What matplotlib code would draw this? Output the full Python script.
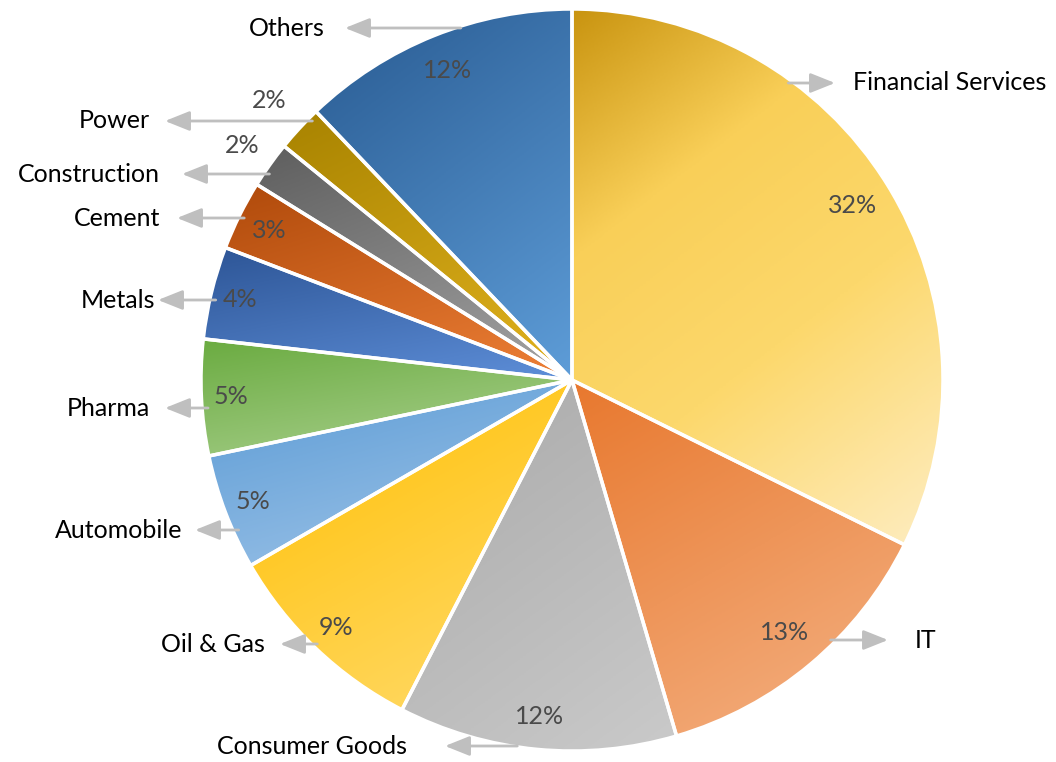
import numpy as np
import matplotlib
matplotlib.use("Agg")
import matplotlib.pyplot as plt
from matplotlib.colors import LinearSegmentedColormap

plt.rcParams['font.family'] = ['Lato', 'DejaVu Sans']

# data (clockwise from 12 o'clock)
sectors = ["Financial Services", "IT", "Consumer Goods", "Oil & Gas", "Automobile",
           "Pharma", "Metals", "Cement", "Construction", "Power", "Others"]
shares = [32, 13, 12, 9, 5, 5, 4, 3, 2, 2, 12]
pct_labels = ["32%", "13%", "12%", "9%", "5%", "5%", "4%", "3%", "2%", "2%", "12%"]

# gradient colours per slice: top-left/dark -> bottom-right/light
grad_colors = [
    [(0, "#C99410"), (0.3, "#F9CF58"), (0.6, "#FCD86C"), (1, "#FEEDC2")],
    ["#E8782E", "#F4B284"],
    ["#A9A9A9", "#CACACA"],
    ["#FFBF00", "#FFDB6E"],
    ["#5B9BD5", "#A2C6E9"],
    ["#6AAB40", "#ADD292"],
    ["#2D5596", "#5E8FD9"],
    ["#B04A0B", "#EE8037"],
    ["#5E5E5E", "#A5A5A5"],
    ["#A88300", "#E2B31F"],
    ["#285A91", "#5E9DD8"],
]

# layout in pixels (y from top)
W, H = 1056, 762
cx, cy, R = 572, 380, 371
label_xy = [(853, 83), (915, 640), (407, 746), (265, 644), (182, 530),
            (150, 408), (155, 300), (160, 218), (160, 174), (150, 121), (325, 28)]
arrow_tip_x = [835, 888, 445, 280, 195, 165, 158, 177, 182, 165, 345]
pct_dist = [0.89, 0.89, 0.91, 0.92, 0.92, 0.92, 0.92, 0.91, 1.09, 1.11, 0.90]

fig = plt.figure(figsize=(W / 100, H / 100), dpi=100)
ax = fig.add_axes([0, 0, 1, 1])

center = (cx, H - cy)
wedges, _ = ax.pie(shares, radius=R, center=center, startangle=90, counterclock=False,
                   frame=True, wedgeprops=dict(facecolor="none", edgecolor="white",
                                               linewidth=2.5, zorder=3))

for w, cols in zip(wedges, grad_colors):
    verts = w.get_path().vertices
    x0, y0 = verts.min(axis=0)
    x1, y1 = verts.max(axis=0)
    cmap = LinearSegmentedColormap.from_list("g", cols)
    yy, xx = np.mgrid[0:1:200j, 0:1:200j]
    # diagonal, mostly top-to-bottom
    t = 0.65 * yy + 0.35 * xx
    im = ax.imshow(t, cmap=cmap, extent=(x0, x1, y0, y1), origin="upper",
                   aspect="auto", zorder=1, interpolation="bilinear", vmin=0, vmax=1)
    im.set_clip_path(w)

ax.set_xlim(0, W)
ax.set_ylim(0, H)
ax.axis("off")

# percent labels
for w, txt, d in zip(wedges, pct_labels, pct_dist):
    mid = np.deg2rad((w.theta1 + w.theta2) / 2)
    ax.text(cx + d * R * np.cos(mid), H - cy + d * R * np.sin(mid), txt,
            ha="center", va="center", fontsize=18, color="#4A4A4A", zorder=5)

# category labels with arrows
for i, name in enumerate(sectors):
    lx, ly = label_xy[i]
    dy = cy - ly
    dx = np.sqrt(max(R ** 2 - dy ** 2, 0))
    right = lx > cx
    start_x = cx + dx - 6 if right else cx - dx + 6
    ax.annotate("", xy=(arrow_tip_x[i], H - ly), xytext=(start_x, H - ly),
                arrowprops=dict(arrowstyle="-|>,head_length=1.5,head_width=0.6",
                                color="#BFBFBF", lw=2, shrinkA=0, shrinkB=0),
                zorder=6)
    ax.text(lx, H - ly, name, ha="left" if right else "right", va="center",
            fontsize=18, color="black", zorder=6)

fig.savefig("out.png", dpi=100, facecolor="white")
